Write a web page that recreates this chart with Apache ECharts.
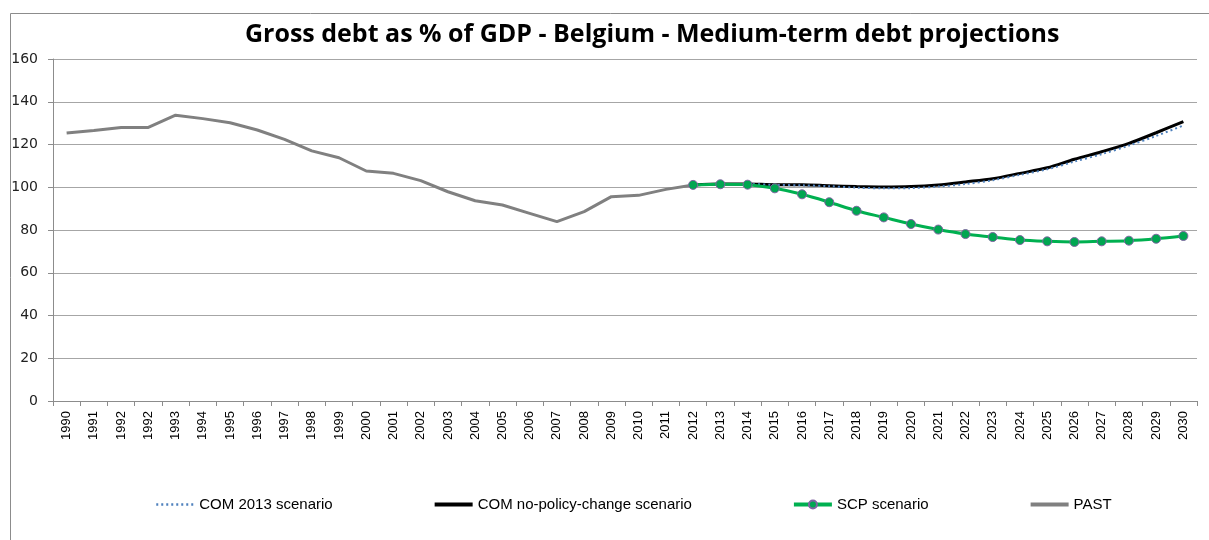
<!DOCTYPE html>
<html>
<head>
<meta charset="utf-8">
<script src="https://cdn.jsdelivr.net/npm/echarts@6/dist/echarts.min.js"></script>
<style>
  html, body { margin: 0; padding: 0; background: #fff; }
  #chart { width: 1209px; height: 540px; }
</style>
</head>
<body>
<div id="chart"></div>
<script>
// categories as printed on the original axis (1992 appears twice)
const years = ['1990', '1991', '1992', '1992', '1993', '1994', '1995', '1996', '1997', '1998',
  '1999', '2000', '2001', '2002', '2003', '2004', '2005', '2006', '2007', '2008', '2009',
  '2010', '2011', '2012', '2013', '2014', '2015', '2016', '2017', '2018', '2019', '2020',
  '2021', '2022', '2023', '2024', '2025', '2026', '2027', '2028', '2029', '2030'];

// 1990 .. 2012
const past = [125.4, 126.6, 128.0, 128.0, 133.7, 132.1, 130.2, 126.8, 122.4, 117.0,
  113.8, 107.6, 106.5, 103.1, 97.9, 93.7, 91.7, 87.8, 83.9, 88.6, 95.6, 96.2, 99.0, 101.1];

// 2012 .. 2030
const com2013 = [101.1, 101.4, 101.5, 101.1, 100.9, 100.5, 99.8, 99.5, 99.6, 100.3,
  101.5, 103.3, 105.8, 108.4, 112.0, 115.5, 119.5, 124.0, 128.9];
const comNoPolicy = [101.1, 101.5, 101.5, 101.2, 101.2, 100.7, 100.3, 100.1, 100.3, 101.1,
  102.5, 104.0, 106.5, 109.1, 113.1, 116.6, 120.5, 125.5, 130.7];
const scp = [101.1, 101.4, 101.2, 99.5, 96.7, 93.0, 89.0, 85.9, 82.8, 80.2,
  78.1, 76.7, 75.3, 74.7, 74.4, 74.7, 75.0, 75.9, 77.2];

const yTicks = [0, 20, 40, 60, 80, 100, 120, 140, 160];

const startIdx = years.length - scp.length;
const pad = (arr, offset) => years.map((y, i) => {
  const k = i - offset;
  return k >= 0 && k < arr.length ? arr[k] : null;
});

const noMarker = { opacity: 0 };

const chart = echarts.init(document.getElementById('chart'));
chart.setOption({
  animation: false,
  backgroundColor: '#fff',
  title: {
    text: 'Gross debt as % of GDP - Belgium - Medium-term debt projections',
    left: 240,
    top: 17,
    textStyle: { fontFamily: 'Open Sans', fontSize: 25, fontWeight: 'bold', color: '#000' }
  },
  graphic: [{
    type: 'rect',
    shape: { x: 10.5, y: 13.5, width: 1230, height: 600 },
    style: { fill: 'none', stroke: '#8c8c8c', lineWidth: 1 },
    silent: true
  }],
  grid: { left: 53, right: 12, top: 59, bottom: 139 },
  legend: {
    top: 492,
    left: 150,
    itemGap: 100,
    itemWidth: 38,
    itemHeight: 10,
    textStyle: { fontFamily: 'Liberation Sans', fontSize: 15, color: '#000' },
    data: [
      { name: 'COM 2013 scenario', itemStyle: noMarker, lineStyle: { width: 2.5 } },
      { name: 'COM no-policy-change scenario', itemStyle: noMarker, lineStyle: { width: 4 } },
      { name: 'SCP scenario', lineStyle: { width: 4 } },
      { name: 'PAST', itemStyle: noMarker, lineStyle: { width: 4 } }
    ]
  },
  xAxis: {
    type: 'category',
    data: years,
    boundaryGap: true,
    axisLine: { lineStyle: { color: '#8c8c8c' } },
    axisTick: { show: true, length: 5, lineStyle: { color: '#8c8c8c' } },
    axisLabel: { rotate: 90, interval: 0, fontFamily: 'Liberation Sans', fontSize: 13, color: '#000', margin: 10 }
  },
  yAxis: {
    type: 'value',
    min: yTicks[0],
    max: yTicks[yTicks.length - 1],
    interval: 20,
    axisLine: { show: true, lineStyle: { color: '#8c8c8c' } },
    axisTick: { show: true, length: 5, lineStyle: { color: '#8c8c8c' } },
    axisLabel: { fontFamily: 'DejaVu Sans', fontSize: 14, color: '#222', margin: 15 },
    splitLine: { lineStyle: { color: '#a6a6a6', width: 1 } }
  },
  series: [
    {
      name: 'PAST',
      type: 'line',
      data: pad(past, 0),
      symbol: 'none',
      lineStyle: { color: '#808080', width: 3 },
      itemStyle: { color: '#808080' },
      z: 2
    },
    {
      name: 'COM no-policy-change scenario',
      type: 'line',
      data: pad(comNoPolicy, startIdx),
      symbol: 'none',
      smooth: 0.3,
      lineStyle: { color: '#000', width: 3 },
      itemStyle: { color: '#000' },
      z: 3
    },
    {
      name: 'COM 2013 scenario',
      type: 'line',
      data: pad(com2013, startIdx),
      symbol: 'none',
      smooth: 0.3,
      lineStyle: { color: '#4f81bd', width: 2, type: [2, 3] },
      itemStyle: { color: '#4f81bd' },
      z: 4
    },
    {
      name: 'SCP scenario',
      type: 'line',
      data: pad(scp, startIdx),
      symbol: 'circle',
      symbolSize: 9,
      smooth: 0.3,
      lineStyle: { color: '#00b050', width: 3 },
      itemStyle: { color: '#00a651', borderColor: '#8064a2', borderWidth: 1 },
      z: 5
    }
  ]
});
</script>
</body>
</html>
